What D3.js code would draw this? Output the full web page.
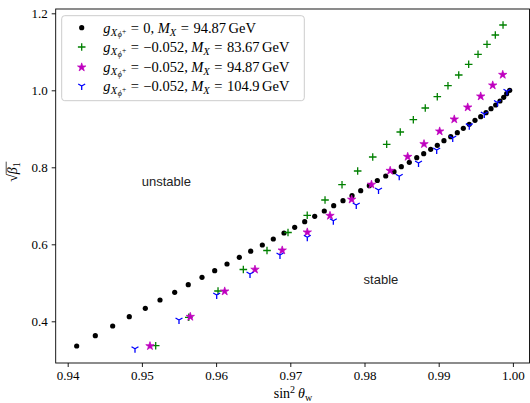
<!DOCTYPE html>
<html>
<head>
<meta charset="utf-8">
<script src="https://cdn.jsdelivr.net/npm/d3@7"></script>
<style>
  html, body { margin: 0; padding: 0; background: #fff; }
  svg { display: block; }
</style>
</head>
<body>
<svg id="chart" width="530" height="403"></svg>
<script>
// sin^2(theta_w) vs sqrt(beta_1) for four parameter points
const xZero = [0.94121,0.94372,0.94606,0.94830,0.95046,0.95244,0.95442,0.95625,0.95810,0.95981,
  0.96147,0.96313,0.96466,0.96623,0.96771,0.96915,0.97059,0.97194,0.97329,0.97458,
  0.97585,0.97710,0.97832,0.97949,0.98065,0.98173,0.98286,0.98398,0.98496,0.98604,
  0.98704,0.98798,0.98892,0.98981,0.99071,0.99162,0.99251,0.99332,0.99412,0.99489,
  0.99566,0.99638,0.99705,0.99768,0.99826,0.99876,0.99916,0.99957];
const yZero = [0.3358,0.3626,0.3878,0.4119,0.4338,0.4553,0.4753,0.4951,0.5143,0.5314,
  0.5488,0.5662,0.5821,0.5982,0.6138,0.6294,0.6442,0.6587,0.6727,0.6865,
  0.7003,0.7132,0.7262,0.7392,0.7522,0.7657,0.7774,0.7886,0.8016,0.8130,
  0.8249,0.8353,0.8468,0.8571,0.8691,0.8795,0.8899,0.9013,0.9117,0.9221,
  0.9314,0.9418,0.9522,0.9618,0.9722,0.9818,0.9912,1.0000];

const xM8367 = [0.95186,0.95632,0.96026,0.96367,0.96686,0.96969,0.97228,0.97468,0.97697,0.97908,
  0.98111,0.98299,0.98482,0.98658,0.98819,0.98981,0.99125,0.99270,0.99404,0.99530,
  0.99651,0.99763,0.99867];
const yM8367 = [0.3366,0.4104,0.4787,0.5345,0.5839,0.6306,0.6753,0.7151,0.7548,0.7904,
  0.8268,0.8597,0.8917,0.9236,0.9540,0.9834,1.0119,1.0397,1.0675,1.0935,
  1.1195,1.1436,1.1696];

const xM9487 = [0.95109,0.95652,0.96116,0.96524,0.96891,0.97229,0.97535,0.97827,0.98094,0.98346,
  0.98582,0.98802,0.99013,0.99210,0.99391,0.99566,0.99728,0.99863];
const yM9487 = [0.3358,0.4119,0.4779,0.5345,0.5844,0.6312,0.6743,0.7164,0.7553,0.7912,
  0.8275,0.8605,0.8935,0.9247,0.9558,0.9844,1.0130,1.0405];

const xM1049 = [0.94907,0.95500,0.96008,0.96457,0.96861,0.97229,0.97580,0.97889,0.98189,0.98468,
  0.98728,0.98973,0.99189,0.99412,0.99614,0.99792,0.99920];
const yM1049 = [0.3288,0.4034,0.4683,0.5229,0.5722,0.6182,0.6613,0.7021,0.7410,0.7766,
  0.8112,0.8449,0.8761,0.9081,0.9384,0.9683,0.9974];

const xTicks = [0.94,0.95,0.96,0.97,0.98,0.99,1.00];
const xTickLabels = ["0.94","0.95","0.96","0.97","0.98","0.99","1.00"];
const yTicks = [0.4,0.6,0.8,1.0,1.2];
const yTickLabels = ["0.4","0.6","0.8","1.0","1.2"];

const coupling = ["0", "\u22120.052", "\u22120.052", "\u22120.052"];
const massLabels = ["94.87", "83.67", "94.87", "104.9"];
const regionLabels = [
  {text: "unstable", x: 0.9533, y: 0.7515},
  {text: "stable", x: 0.98222, y: 0.4970}
];

const serif = "'Liberation Serif', 'DejaVu Serif', serif";
const svg = d3.select("#chart");
const padL = 55.7, padR = 529.5, padT = 9, padB = 363;

const x = d3.scaleLinear().domain([0.938383, 1.002237]).range([padL, padR]);
const y = d3.scaleLinear().domain([0.29169, 1.21117]).range([padB, padT]);

// axes
const xAxis = d3.axisBottom(x).tickValues(xTicks).tickSize(4).tickPadding(4)
  .tickFormat((d, i) => xTickLabels[i]);
const yAxis = d3.axisLeft(y).tickValues(yTicks).tickSize(4).tickPadding(4)
  .tickFormat((d, i) => yTickLabels[i]);

const gx = svg.append("g").attr("transform", `translate(0,${padB})`).call(xAxis);
const gy = svg.append("g").attr("transform", `translate(${padL},0)`).call(yAxis);
[gx, gy].forEach(g => {
  g.select(".domain").remove();
  g.selectAll(".tick line").attr("stroke", "#000").attr("stroke-width", 0.9);
  g.selectAll(".tick text").attr("font-family", serif).attr("font-size", 13).attr("fill", "#000");
});

// frame
svg.append("rect").attr("x", padL).attr("y", padT)
  .attr("width", padR - padL).attr("height", padB - padT)
  .attr("fill", "none").attr("stroke", "#000").attr("stroke-width", 0.9);

const plot = svg.append("g");

// series 1: black dots
plot.selectAll("circle.s0").data(xZero).join("circle")
  .attr("cx", d => x(d)).attr("cy", (d, i) => y(yZero[i])).attr("r", 2.6).attr("fill", "#000");

// series 2: green plus
const plusPath = s => `M${-s},0H${s}M0,${-s}V${s}`;
plot.selectAll("path.s1").data(xM8367).join("path")
  .attr("transform", (d, i) => `translate(${x(d)},${y(yM8367[i])})`)
  .attr("d", plusPath(3.8)).attr("stroke", "#008000").attr("stroke-width", 1.3).attr("fill", "none");

// series 3: magenta stars
const star = d3.symbol().type(d3.symbolStar).size(22);
plot.selectAll("path.s2").data(xM9487).join("path")
  .attr("transform", (d, i) => `translate(${x(d)},${y(yM9487[i])})`)
  .attr("d", star()).attr("fill", "#bf00bf").attr("stroke", "#bf00bf").attr("stroke-width", 0.7);

// series 4: blue tri-down
const triPath = s => `M0,0V${s}M0,0L${-0.866*s},${-0.5*s}M0,0L${0.866*s},${-0.5*s}`;
plot.selectAll("path.s3").data(xM1049).join("path")
  .attr("transform", (d, i) => `translate(${x(d)},${y(yM1049[i])})`)
  .attr("d", triPath(4)).attr("stroke", "#0000ff").attr("stroke-width", 1.3).attr("fill", "none");

// region labels
svg.selectAll("text.region").data(regionLabels).join("text")
  .attr("x", d => x(d.x)).attr("y", d => y(d.y))
  .attr("text-anchor", "middle")
  .attr("font-family", "'Liberation Sans', Arial, sans-serif").attr("font-size", 13)
  .attr("fill", "#222").text(d => d.text);

// legend
const lg = svg.append("g");
lg.append("rect").attr("x", 61.7).attr("y", 15.7).attr("width", 242.6).attr("height", 85)
  .attr("rx", 3).attr("fill", "#fff").attr("fill-opacity", 0.8)
  .attr("stroke", "#ccc").attr("stroke-width", 1);

const rowY = [27.7, 47, 67.3, 86];
const mx = 81.7;
lg.append("circle").attr("cx", mx).attr("cy", rowY[0]).attr("r", 2.6).attr("fill", "#000");
lg.append("path").attr("transform", `translate(${mx},${rowY[1]})`).attr("d", plusPath(3.8))
  .attr("stroke", "#008000").attr("stroke-width", 1.3).attr("fill", "none");
lg.append("path").attr("transform", `translate(${mx},${rowY[2]})`).attr("d", star())
  .attr("fill", "#bf00bf").attr("stroke", "#bf00bf").attr("stroke-width", 0.7);
lg.append("path").attr("transform", `translate(${mx},${rowY[3]})`).attr("d", triPath(4))
  .attr("stroke", "#0000ff").attr("stroke-width", 1.3).attr("fill", "none");

// legend labels: g_{X_{phi^+}} = c, M_X = m GeV, with TeX-like spacing
const fs = 14.5;
rowY.forEach((ry, i) => {
  const t = lg.append("text").attr("x", 103.3).attr("y", ry + 4.8)
    .attr("font-family", serif).attr("font-size", fs).attr("fill", "#000");
  t.append("tspan").attr("font-style", "italic").text("g");
  t.append("tspan").attr("font-style", "italic").attr("font-size", 10.5).attr("dy", 3.2).attr("dx", 0.3).text("X");
  t.append("tspan").attr("font-style", "italic").attr("font-size", 8).attr("dy", 1.6).attr("dx", 0.5).text("\u03d5");
  t.append("tspan").attr("font-size", 7.5).attr("dy", -3.6).text("+");
  t.append("tspan").attr("dy", -1.2).attr("dx", 4.5).text("=");
  t.append("tspan").attr("dx", 4.5).text(coupling[i] + ",");
  t.append("tspan").attr("font-style", "italic").attr("dx", 3.5).text("M");
  t.append("tspan").attr("font-style", "italic").attr("font-size", 10.5).attr("dy", 3.2).text("X");
  t.append("tspan").attr("dy", -3.2).attr("dx", 4.5).text("=");
  t.append("tspan").attr("dx", 4.5).text(massLabels[i]);
  t.append("tspan").attr("dx", 2.5).text("GeV");
});

// axis titles
const xt = svg.append("text").attr("x", 293).attr("y", 398).attr("text-anchor", "middle")
  .attr("font-family", serif).attr("font-size", 14).attr("fill", "#000");
xt.append("tspan").text("sin");
xt.append("tspan").attr("font-size", 10).attr("dy", -5).text("2");
xt.append("tspan").attr("font-style", "italic").attr("dy", 5).attr("dx", 3).text("\u03b8");
xt.append("tspan").attr("font-size", 10).attr("dy", 2.5).text("w");

const yt = svg.append("g").attr("transform", "translate(17,172) rotate(-90)");
const yText = yt.append("text").attr("text-anchor", "middle")
  .attr("font-family", serif).attr("font-size", 14).attr("fill", "#000");
yText.append("tspan").text("\u221a");
yText.append("tspan").attr("font-style", "italic").text("\u03b2");
yText.append("tspan").attr("font-size", 10).attr("dy", 2.5).text("1");
const bb = yText.node().getBBox();
yt.append("line").attr("x1", bb.x + 8).attr("x2", bb.x + bb.width + 0.5)
  .attr("y1", bb.y + 1.2).attr("y2", bb.y + 1.2).attr("stroke", "#000").attr("stroke-width", 0.7);
</script>
</body>
</html>
